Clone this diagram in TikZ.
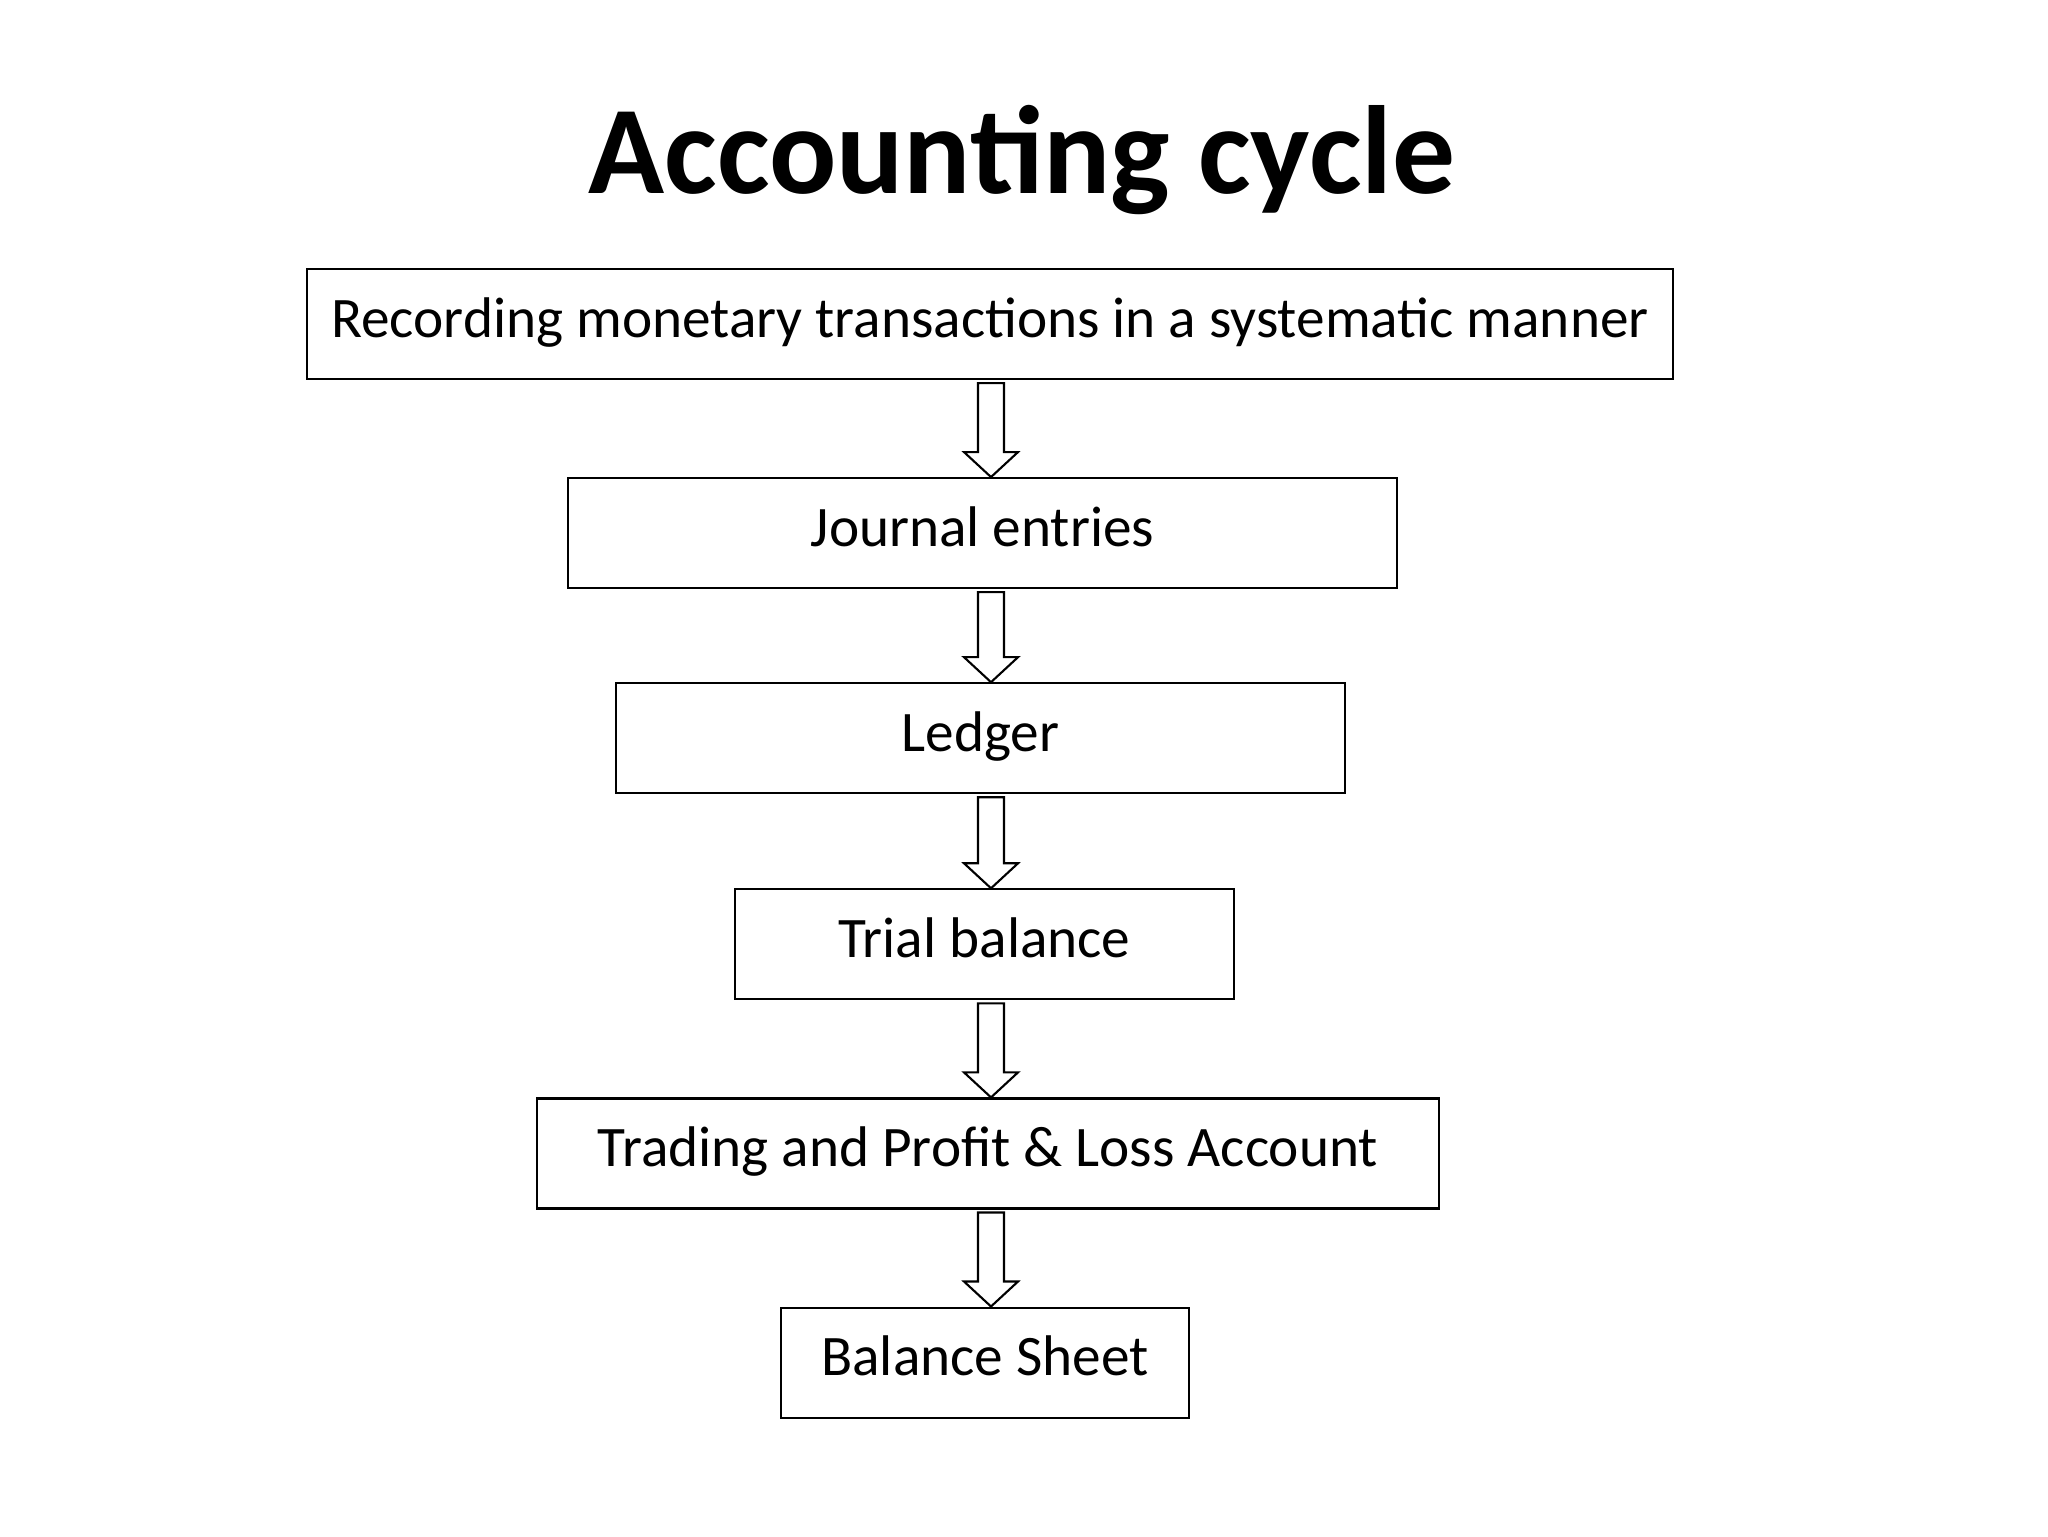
\documentclass[tikz,border=0pt]{standalone}
\usepackage{fontspec}
\setmainfont{Carlito}
\usetikzlibrary{positioning,calc}

% hollow block arrow between two boxes, on the common axis
\newcommand{\blockarrow}[2]{%
  \draw[arrow line] let \p1=(spine), \p2=(#1.south), \p3=(#2.north) in
    (\x1-1.3mm,\y2-0.3mm) -- (\x1+1.3mm,\y2-0.3mm) -- (\x1+1.3mm,\y3+2.5mm)
    -- (\x1+2.7mm,\y3+2.5mm) -- (\x1,\y3) -- (\x1-2.7mm,\y3+2.5mm)
    -- (\x1-1.3mm,\y3+2.5mm) -- cycle;}

\begin{document}
\begin{tikzpicture}[x=0.1mm,y=-0.1mm,
  stepbox/.style={draw,line width=0.6pt,minimum height=11mm,inner sep=0pt,text height=3.6mm,text depth=1mm,font=\fontsize{16.3}{19}\selectfont},
  arrow line/.style={line width=0.6pt,fill=white}]
\useasboundingbox (0,0) rectangle (2048,1536);

\node[font=\fontsize{35.7}{42}\selectfont\bfseries,anchor=base] (title) at (1022,193) {Accounting cycle};

\node[stepbox,minimum width=136.6mm] (rec) at (990,324) {Recording monetary transactions in a systematic manner};
\node[stepbox,minimum width=82.9mm,below=9.7mm of rec,xshift=-0.75mm] (journal) {Journal entries};
\node[stepbox,minimum width=72.9mm,below=9.3mm of journal,xshift=-0.2mm] (ledger) {Ledger};
\node[stepbox,minimum width=49.9mm,below=9.4mm of ledger,xshift=0.4mm] (trial) {Trial balance};
\node[stepbox,minimum width=90.2mm,below=9.7mm of trial,xshift=0.35mm] (trading) {Trading and Profit \& Loss Account};
\node[stepbox,minimum width=40.8mm,below=9.7mm of trading,xshift=-0.3mm] (balance) {Balance Sheet};

\coordinate (spine) at ([xshift=0.1mm]rec.south);

\foreach \a/\b in {rec/journal,journal/ledger,ledger/trial,trial/trading,trading/balance}
  \blockarrow{\a}{\b};
\end{tikzpicture}
\end{document}
